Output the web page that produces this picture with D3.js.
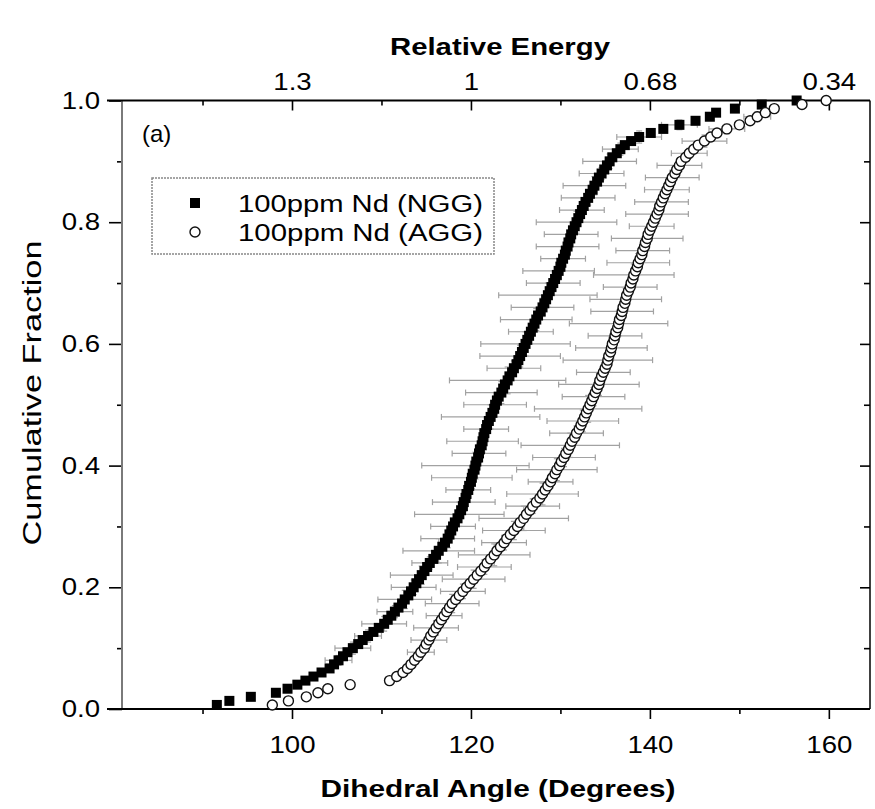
<!DOCTYPE html>
<html><head><meta charset="utf-8">
<script src="https://cdn.jsdelivr.net/npm/d3@7"></script>
<style>
body{margin:0;background:#fff}
svg{display:block}
text{font-family:"Liberation Sans",Arial,sans-serif;fill:#000}
</style>
</head><body><div id="chart"></div>
<script>
// Sorted dihedral angles (degrees); cumulative fraction = rank / N
const nggAngles = [
91.6, 93.0, 95.4, 98.2, 99.5, 100.6, 101.5, 102.4, 103.3, 104.2,
104.7, 105.2, 105.7, 106.2, 106.8, 107.4, 107.9, 108.5, 109.1, 109.7,
110.3, 110.7, 111.1, 111.5, 111.9, 112.3, 112.6, 113.0, 113.3, 113.6,
113.9, 114.2, 114.5, 114.8, 115.1, 115.4, 115.8, 116.1, 116.4, 116.8,
117.1, 117.4, 117.6, 117.8, 118.0, 118.2, 118.5, 118.7, 118.9, 119.1,
119.2, 119.4, 119.5, 119.7, 119.8, 120.0, 120.1, 120.2, 120.4, 120.5,
120.6, 120.8, 120.9, 121.0, 121.2, 121.3, 121.4, 121.5, 121.7, 121.8,
122.0, 122.2, 122.4, 122.6, 122.7, 122.9, 123.1, 123.4, 123.6, 123.8,
124.1, 124.3, 124.6, 124.8, 125.1, 125.3, 125.5, 125.7, 125.9, 126.1,
126.3, 126.5, 126.7, 126.9, 127.1, 127.3, 127.5, 127.8, 128.0, 128.2,
128.4, 128.6, 128.8, 129.0, 129.2, 129.4, 129.6, 129.8, 130.0, 130.1,
130.3, 130.5, 130.6, 130.8, 130.9, 131.1, 131.2, 131.4, 131.6, 131.8,
132.0, 132.2, 132.4, 132.6, 132.8, 133.1, 133.3, 133.6, 133.8, 134.1,
134.3, 134.6, 134.9, 135.2, 135.5, 135.8, 136.3, 136.7, 137.2, 137.9,
138.8, 140.1, 141.5, 143.3, 145.1, 146.7, 147.4, 149.5, 152.5, 156.4
];
const aggAngles = [
97.8, 99.6, 101.6, 102.9, 104.0, 106.5, 110.9, 111.7, 112.4, 112.9,
113.3, 113.7, 114.1, 114.4, 114.8, 115.0, 115.3, 115.5, 115.8, 116.1,
116.4, 116.7, 117.0, 117.3, 117.6, 117.9, 118.3, 118.7, 119.1, 119.5,
119.9, 120.3, 120.7, 121.1, 121.5, 121.8, 122.2, 122.6, 122.9, 123.3,
123.7, 124.0, 124.4, 124.8, 125.2, 125.5, 125.9, 126.2, 126.6, 126.9,
127.3, 127.7, 128.0, 128.3, 128.6, 128.9, 129.1, 129.4, 129.6, 129.9,
130.1, 130.4, 130.6, 130.9, 131.1, 131.3, 131.6, 131.8, 132.1, 132.3,
132.5, 132.7, 132.9, 133.1, 133.3, 133.5, 133.7, 133.9, 134.1, 134.3,
134.4, 134.6, 134.8, 135.0, 135.2, 135.3, 135.4, 135.6, 135.7, 135.8,
136.0, 136.1, 136.2, 136.4, 136.5, 136.6, 136.8, 136.9, 137.0, 137.2,
137.3, 137.4, 137.6, 137.8, 137.9, 138.1, 138.2, 138.4, 138.6, 138.7,
138.9, 139.1, 139.2, 139.4, 139.5, 139.7, 139.8, 140.0, 140.2, 140.4,
140.6, 140.8, 141.0, 141.1, 141.3, 141.5, 141.7, 141.9, 142.1, 142.3,
142.5, 142.8, 143.0, 143.3, 143.5, 144.0, 144.4, 144.9, 145.4, 146.1,
146.8, 147.5, 148.6, 150.0, 151.2, 152.0, 152.9, 153.9, 157.0, 159.7
];
// Error bars: rank of point, half-width in degrees, half-height in fraction
const nggErrRank = [12,15,18,21,24,27,30,33,36,39,42,45,48,51,54,57,60,63,66,69,72,75,78,81,84,87,90,93,96,99,102,105,108,111,114,117,120,123,126,129,132,135,138,141,144];
const nggErrX = [1.5,2,1.5,2.5,2,3,2.5,3.5,2,4,3,2.5,5,3.5,2.5,4.5,6,3,4,2.5,5.5,3.5,4,6.5,3,4.5,5,2.5,4,3.5,5.5,3,4,2.5,3.5,3,4.5,2.5,3,3.5,2.5,3,2,2.5,2];
const nggErrY = [0.008,0.01,0.01,0.012,0.01,0.015,0.012,0.015,0.01,0.02,0.015,0.012,0.02,0.015,0.012,0.018,0.022,0.015,0.018,0.012,0.02,0.015,0.018,0.022,0.012,0.018,0.02,0.012,0.018,0.015,0.02,0.012,0.015,0.012,0.015,0.012,0.018,0.01,0.012,0.015,0.01,0.012,0.01,0.01,0.008];
const aggErrRank = [14,17,20,23,26,29,32,35,38,41,44,47,50,53,56,59,62,65,68,71,74,77,80,83,86,89,92,95,98,101,104,107,110,113,116,119,122,125,128,131,134,137,140,143,146];
const aggErrX = [1.5,2,2.5,2,3,2.5,3.5,3,4,2.5,3.5,5,3,4,2.5,4.5,3.5,5.5,3,4,6,3.5,4.5,3,5,4,3,5.5,3.5,4,3,4.5,3.5,3,4,2.5,3.5,3,2.5,3,2.5,2,2.5,2,1.5];
const aggErrY = [0.008,0.01,0.012,0.01,0.015,0.012,0.015,0.012,0.018,0.012,0.015,0.02,0.012,0.018,0.01,0.018,0.015,0.02,0.012,0.018,0.022,0.015,0.018,0.012,0.02,0.018,0.012,0.02,0.015,0.018,0.012,0.018,0.015,0.012,0.015,0.01,0.015,0.012,0.01,0.012,0.01,0.008,0.01,0.008,0.008];

const seriesNames = ["100ppm Nd (NGG)", "100ppm Nd (AGG)"];
const xMajorTicks = [100, 120, 140, 160];
const xMinorTicks = [90, 110, 130, 150];
const energyLabels = ["1.3", "1", "0.68", "0.34"];
const yMajorTicks = [0, 0.2, 0.4, 0.6, 0.8, 1.0];
const yMinorTicks = [0.1, 0.3, 0.5, 0.7, 0.9];

const W = 875, H = 809;
const L = 122, R = 870, T = 100.5, B = 709;
const FONT = '"Liberation Sans",Arial,sans-serif';

const svg = d3.select("#chart").append("svg").attr("width", W).attr("height", H);
const x = d3.scaleLinear().domain([81, 164.6]).range([L, R]);
const y = d3.scaleLinear().domain([0, 1]).range([B, T]);

// widen glyphs horizontally (the source lettering is broader than Arial)
function widen(sel, k) {
  sel.each(function () {
    const w = this.getComputedTextLength();
    if (w > 0) d3.select(this).attr("textLength", w * k).attr("lengthAdjust", "spacingAndGlyphs");
  });
}
function styleAxis(g) {
  g.select(".domain").remove();
  g.selectAll(".tick line").attr("stroke", "#000").attr("stroke-width", 1.6);
  g.selectAll(".tick text").attr("font-size", 24).attr("font-family", FONT).attr("fill", "#000");
  widen(g.selectAll(".tick text"), 1.15);
}

// axes
svg.append("g").attr("transform", `translate(0,${B})`)
  .call(d3.axisBottom(x).tickValues(xMajorTicks).tickSize(10).tickPadding(17).tickFormat(d3.format("d"))).call(styleAxis);
svg.append("g").attr("transform", `translate(0,${B})`)
  .call(d3.axisBottom(x).tickValues(xMinorTicks).tickSize(5).tickFormat("")).call(styleAxis);
svg.append("g").attr("transform", `translate(0,${T})`)
  .call(d3.axisTop(x).tickValues(xMajorTicks).tickSizeInner(-10).tickSizeOuter(0).tickPadding(11)
    .tickFormat((d, i) => energyLabels[i])).call(styleAxis);
svg.append("g").attr("transform", `translate(0,${T})`)
  .call(d3.axisTop(x).tickValues(xMinorTicks).tickSizeInner(-5).tickSizeOuter(0).tickFormat("")).call(styleAxis);
svg.append("g").attr("transform", `translate(${L},0)`)
  .call(d3.axisLeft(y).tickValues(yMajorTicks).tickSize(13).tickPadding(9).tickFormat(d3.format(".1f"))).call(styleAxis);
svg.append("g").attr("transform", `translate(${L},0)`)
  .call(d3.axisLeft(y).tickValues(yMinorTicks).tickSize(5).tickFormat("")).call(styleAxis);
svg.append("g").attr("transform", `translate(${R},0)`)
  .call(d3.axisLeft(y).tickValues(yMajorTicks.slice(1, 5)).tickSize(10).tickFormat("")).call(styleAxis);
svg.append("g").attr("transform", `translate(${R},0)`)
  .call(d3.axisLeft(y).tickValues(yMinorTicks).tickSize(6).tickFormat("")).call(styleAxis);

// frame
svg.append("line").attr("x1", L).attr("x2", L).attr("y1", T).attr("y2", B).attr("stroke", "#7a7a7a").attr("stroke-width", 2);
svg.append("line").attr("x1", R).attr("x2", R).attr("y1", T).attr("y2", B).attr("stroke", "#000").attr("stroke-width", 1.5);
svg.append("line").attr("x1", 107).attr("x2", R).attr("y1", T).attr("y2", T).attr("stroke", "#000").attr("stroke-width", 2.2);
svg.append("line").attr("x1", 107).attr("x2", R).attr("y1", B).attr("y2", B).attr("stroke", "#000").attr("stroke-width", 2.2);

// error bars
function drawErr(angles, ranks, ex, ey) {
  const N = angles.length;
  const g = svg.append("g").attr("stroke", "#a2a2a2").attr("stroke-width", 1.2).attr("fill", "none");
  ranks.forEach((k, i) => {
    const a = angles[k - 1], f = k / N;
    const cy = y(f), cx = x(a);
    const x0 = x(a - ex[i]), x1 = x(a + ex[i]);
    const y0 = y(f - ey[i]), y1 = y(f + ey[i]);
    g.append("line").attr("x1", x0).attr("x2", x1).attr("y1", cy).attr("y2", cy);
    g.append("line").attr("x1", x0).attr("x2", x0).attr("y1", cy - 3).attr("y2", cy + 3);
    g.append("line").attr("x1", x1).attr("x2", x1).attr("y1", cy - 3).attr("y2", cy + 3);
    g.append("line").attr("x1", cx).attr("x2", cx).attr("y1", y0).attr("y2", y1);
    g.append("line").attr("x1", cx - 3).attr("x2", cx + 3).attr("y1", y0).attr("y2", y0);
    g.append("line").attr("x1", cx - 3).attr("x2", cx + 3).attr("y1", y1).attr("y2", y1);
  });
}
drawErr(nggAngles, nggErrRank, nggErrX, nggErrY);
drawErr(aggAngles, aggErrRank, aggErrX, aggErrY);

// markers
const S = 10;
svg.append("g").selectAll("rect").data(nggAngles).join("rect")
  .attr("x", d => x(d) - S / 2)
  .attr("y", (d, i) => y((i + 1) / nggAngles.length) - S / 2)
  .attr("width", S).attr("height", S).attr("fill", "#000");
svg.append("g").selectAll("circle").data(aggAngles).join("circle")
  .attr("cx", d => x(d))
  .attr("cy", (d, i) => y((i + 1) / aggAngles.length))
  .attr("r", 5).attr("fill", "#fff").attr("stroke", "#111").attr("stroke-width", 1.4);

// panel label
svg.append("text").attr("x", 142).attr("y", 142).attr("font-size", 24).text("(a)");

// legend
svg.append("rect").attr("x", 152).attr("y", 178).attr("width", 342).attr("height", 76)
  .attr("fill", "#fff").attr("stroke", "#888").attr("stroke-width", 1.5).attr("stroke-dasharray", "2,1");
svg.append("rect").attr("x", 195 - S / 2).attr("y", 203 - S / 2).attr("width", S).attr("height", S).attr("fill", "#000");
svg.append("circle").attr("cx", 195).attr("cy", 232).attr("r", 5).attr("fill", "#fff").attr("stroke", "#111").attr("stroke-width", 1.4);
svg.append("text").attr("x", 238).attr("y", 212).attr("font-size", 23).attr("textLength", 245).attr("lengthAdjust", "spacingAndGlyphs").text(seriesNames[0]);
svg.append("text").attr("x", 238).attr("y", 241).attr("font-size", 23).attr("textLength", 245).attr("lengthAdjust", "spacingAndGlyphs").text(seriesNames[1]);

// titles
svg.append("text").attr("x", 500).attr("y", 55).attr("text-anchor", "middle").attr("font-size", 23).attr("font-weight", "bold")
  .attr("textLength", 220).attr("lengthAdjust", "spacingAndGlyphs").text("Relative Energy");
svg.append("text").attr("x", 498).attr("y", 797).attr("text-anchor", "middle").attr("font-size", 24).attr("font-weight", "bold")
  .attr("textLength", 355).attr("lengthAdjust", "spacingAndGlyphs").text("Dihedral Angle (Degrees)");
svg.append("text").attr("transform", "translate(41,393) rotate(-90)").attr("text-anchor", "middle").attr("font-size", 25)
  .attr("textLength", 305).attr("lengthAdjust", "spacingAndGlyphs").text("Cumulative Fraction");
</script>
</body></html>
